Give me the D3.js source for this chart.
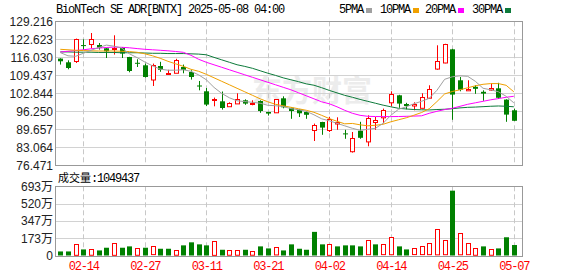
<!DOCTYPE html>
<html>
<head>
<meta charset="utf-8">
<script src="https://cdn.jsdelivr.net/npm/d3@7"></script>
<style>
  body { margin: 0; background: #fff; }
  svg { display: block; }
  .mono { font-family: "Liberation Mono", "DejaVu Sans Mono", monospace; font-size: 12px; letter-spacing: -1.2px; }
  .num { font-family: "Liberation Sans", Arial, sans-serif; font-size: 12px; fill: #222; }
</style>
</head>
<body>
<div id="chart"></div>
<script>
// data
const title = 'BioNTech SE ADR[BNTX] 2025-05-08 04:00';

const dates = ['02-11','02-12','02-13','02-14','02-18','02-19','02-20','02-21','02-24','02-25','02-26','02-27','02-28',
  '03-03','03-04','03-05','03-06','03-07','03-10','03-11','03-12','03-13','03-14','03-17','03-18','03-19','03-20','03-21',
  '03-24','03-25','03-26','03-27','03-28','03-31','04-01','04-02','04-03','04-04','04-07','04-08','04-09','04-10','04-11',
  '04-14','04-15','04-16','04-17','04-21','04-22','04-23','04-24','04-25','04-28','04-29','04-30','05-01','05-02',
  '05-05','05-06','05-07'];

const open = [115.55,114.2,114.82,120.5,121.05,120.54,119.33,119.22,119.44,116.14,
  114.02,113.1,107.79,112.84,109.91,110.43,112.48,110.65,105.7,103.58,
  100.54,99.91,98.26,99.29,100.28,99.22,100.02,96.0,95.77,101.01,
  97.53,96.87,96.0,89.29,92.33,89.29,91.67,88.16,81.78,89.11,
  85.37,92.22,93.94,99.44,102.11,98.92,98.26,97.53,101.38,111.89,
  114.02,118.96,107.61,103.83,105.22,103.39,104.2,104.67,100.54,96.62];
const close = [114.57,112.11,122.88,120.35,122.88,119.58,118.23,119.44,117.39,111.01,
  113.91,108.81,113.1,111.45,110.28,115.11,111.45,108.81,105.59,98.71,
  100.68,97.46,99.44,100.9,99.07,99.36,96.36,95.41,100.64,97.72,
  96.36,95.52,94.97,91.12,90.28,93.32,92.22,88.05,86.62,86.54,
  93.94,92.95,96.62,102.48,99.07,98.19,98.81,101.49,104.57,114.67,
  120.79,102.37,104.13,104.31,104.49,102.73,104.78,101.2,95.04,92.77];
const high = [115.66,114.93,122.88,122.62,124.93,121.27,119.51,124.09,119.8,116.2,
  115.3,113.72,113.72,114.38,111.45,115.48,113.36,111.27,107.35,104.78,
  101.27,103.5,99.55,102.84,100.64,100.28,100.28,96.07,100.75,101.74,
  97.72,96.98,96.25,91.75,92.4,94.24,94.05,89.47,88.67,92.4,
  94.78,94.16,97.24,103.58,102.29,99.36,99.55,102.84,105.78,120.43,
  120.98,119.15,108.82,107.61,105.78,103.94,106.51,106.69,100.64,97.24];
const low = [113.36,111.64,113.94,118.85,119.33,118.85,115.77,117.02,115.77,110.54,
  112.48,108.6,105.52,110.72,109.8,110.3,110.17,107.86,103.94,98.19,
  98.08,96.87,98.19,99.07,98.63,98.45,95.7,94.68,95.7,97.35,
  93.5,94.16,93.5,85.37,87.64,88.67,89.47,86.18,81.12,86.18,
  83.43,89.47,91.85,98.08,97.53,96.98,96.62,97.35,101.01,111.45,
  113.83,93.14,103.58,103.69,102.66,100.1,103.69,100.75,92.4,92.7];

// volume in 万 shares
const volume = [40.6,40.6,118.4,60.9,67.6,50.7,77.8,128.5,77.8,91.3,
  77.8,77.8,91.3,67.6,67.6,57.5,101.5,131.9,111.6,101.5,
  148.8,57.5,57.5,57.5,57.5,47.3,91.3,71,84.5,50.7,
  111.6,67.6,57.5,236.7,111.6,118.4,91.3,101.5,101.5,91.3,
  152.2,111.6,111.6,182.6,91.3,60.9,71,91.3,121.8,263.8,
  152.2,649.3,223.2,121.8,77.8,91.3,67.6,71,182.6,104.9437];

const ma5 = [117.75,116.58,116.4,117.5,118.6,119.6,120.5,120.1,119.4,117.3,
  115.9,114.3,112.9,111.7,111.3,111.3,111.45,110.9,109.6,107.8,
  105.0,102.8,101.2,100.1,99.8,99.55,99.2,98.45,98.3,97.97,
  97.24,96.8,96.25,94.97,93.5,92.77,91.86,90.94,90.02,89.29,
  89.66,90.02,91.86,94.79,96.98,97.9,99.0,99.91,101.0,103.94,
  107.97,108.89,109.25,109.07,107.24,104.68,104.13,103.39,101.75,99.36];
const ma10 = [118.96,118.78,118.6,118.49,118.41,118.34,118.34,118.34,118.23,118.12,
  117.86,117.31,116.58,115.66,114.57,113.65,112.73,111.63,110.9,109.8,
  108.52,107.24,105.96,104.67,103.39,102.11,100.83,99.73,98.81,98.27,
  97.72,97.17,96.62,95.89,94.78,93.58,92.59,91.67,91.8,91.3,
  90.94,91.12,91.49,92.4,93.14,93.87,94.8,95.8,97.2,99.8,
  102.6,103.5,104.13,104.86,105.59,106.14,106.4,106.4,105.78,103.39];
const ma20 = [117.97,118.23,118.52,118.78,119.14,119.4,119.62,119.77,119.69,119.51,
  119.22,118.96,118.78,118.6,118.41,118.16,117.86,116.76,115.3,114.2,
  113.28,112.37,111.45,110.54,109.62,108.7,107.79,106.87,105.96,105.04,
  104.13,103.03,101.93,100.83,99.73,99.0,97.9,96.62,95.52,94.78,
  94.42,94.34,94.31,94.31,94.34,94.42,94.49,94.6,95.52,96.25,
  96.87,97.35,98.08,98.81,99.36,99.91,100.46,100.9,101.38,101.75];
const ma30 = [118.0,118.0,117.9,117.9,117.9,117.8,117.8,117.8,117.7,117.7,
  117.7,117.6,117.5,117.5,117.4,117.4,117.4,117.3,117.2,116.95,
  116.0,115.1,114.2,113.3,112.7,112.0,111.1,110.2,109.4,108.5,
  107.8,107.1,106.3,105.8,104.9,103.9,103.0,102.1,101.4,100.6,
  99.9,99.2,98.5,97.9,97.35,97.1,96.9,96.8,96.75,96.9,
  97.0,97.2,97.5,97.7,97.8,97.95,98.1,98.2,98.1,97.9];

const maNames = ['5PMA', '10PMA', '20PMA', '30PMA'];
const priceTicks = [76.471, 83.064, 89.657, 96.250, 102.844, 109.437, 116.030, 122.623, 129.216];
const volTicks = [0, 173, 347, 520, 693];
const dateTicks = ['02-14','02-27','03-11','03-21','04-02','04-14','04-25','05-07'];

const RED = '#ff0000';
const GREEN = '#008000';
const maColors = ['#a0a0a0', '#f0a000', '#ff00ff', '#0c7a3a'];

class KLineChart {

  constructor(container, width, height) {
    this.svg = d3.select(container).append('svg')
      .attr('width', width)
      .attr('height', height);
    this.left = 55.5;
    this.right = 522.5;
    this.price = [165.3, 21.3];   // bottom, top
    this.vol = [255.5, 186.3];

    this.x = d3.scalePoint(dates, [60.3, 513.8]);
    this.y = d3.scaleLinear(d3.extent(priceTicks), this.price);
    this.yv = d3.scaleLinear([0, 693], this.vol);
  }

  #cx(i) {
    return Math.round(this.x(dates[i])) + 0.5;
  }

  #watermark() {
    this.svg.append('text')
      .attr('x', 252).attr('y', 101)
      .style('font-family', '"Noto Sans CJK SC"')
      .style('font-size', '30px')
      .style('font-weight', 'bold')
      .style('fill', '#ececec')
      .text('东方财富');
  }

  #grid() {
    const g = this.svg.append('g');
    const hLine = (ticks, scale) => g.append('g').selectAll('line')
      .data(ticks).join('line')
      .attr('x1', this.left).attr('x2', this.right)
      .attr('y1', d => Math.round(scale(d)) + 0.5)
      .attr('y2', d => Math.round(scale(d)) + 0.5)
      .attr('stroke', '#d2d2d2');
    hLine(priceTicks.slice(1, -1), this.y);
    hLine(volTicks.slice(1, -1), this.yv);

    [this.price, this.vol].forEach(([b, t]) => {
      g.append('g').selectAll('line')
        .data(dateTicks).join('line')
        .attr('x1', d => Math.round(this.x(d)) + 0.5)
        .attr('x2', d => Math.round(this.x(d)) + 0.5)
        .attr('y1', t).attr('y2', b)
        .attr('stroke', '#c8c8c8')
        .attr('stroke-dasharray', '5,3');
    });
  }

  #frames() {
    [this.price, this.vol].forEach(([b, t]) => {
      this.svg.append('rect')
        .attr('x', this.left).attr('y', Math.round(t) + 0.5)
        .attr('width', this.right - this.left)
        .attr('height', Math.round(b) - Math.round(t))
        .attr('fill', 'none')
        .attr('stroke', '#999');
    });
  }

  #candles() {
    const g = this.svg.append('g');
    const idx = d3.range(dates.length);
    const up = i => close[i] > open[i];

    g.selectAll('line').data(idx).join('line')
      .attr('x1', i => this.#cx(i)).attr('x2', i => this.#cx(i))
      .attr('y1', i => this.y(high[i])).attr('y2', i => this.y(low[i]))
      .attr('stroke', i => up(i) ? RED : GREEN);

    g.selectAll('rect').data(idx).join('rect')
      .attr('x', i => up(i) ? this.#cx(i) - 2 : this.#cx(i) - 2.5)
      .attr('y', i => up(i) ? Math.round(this.y(close[i])) + 0.5 : this.y(open[i]))
      .attr('width', i => up(i) ? 4 : 5)
      .attr('height', i => Math.max(1, Math.abs(this.y(open[i]) - this.y(close[i]))))
      .attr('fill', i => up(i) ? '#fff' : GREEN)
      .attr('stroke', i => up(i) ? RED : 'none');
  }

  #volumes() {
    const g = this.svg.append('g');
    // bar colour follows the change from the previous close
    const up = i => close[i] >= (i ? close[i - 1] : open[i]);
    g.selectAll('rect').data(volume).join('rect')
      .attr('x', (d, i) => up(i) ? this.#cx(i) - 2 : this.#cx(i) - 2.5)
      .attr('y', (d, i) => up(i) ? Math.round(this.yv(d)) + 0.5 : this.yv(d))
      .attr('width', (d, i) => up(i) ? 4 : 5)
      .attr('height', (d, i) => this.yv(0) - this.yv(d) - (up(i) ? 1 : 0))
      .attr('fill', (d, i) => up(i) ? '#fff' : GREEN)
      .attr('stroke', (d, i) => up(i) ? RED : 'none');
  }

  #averages() {
    const line = d3.line()
      .x((d, i) => this.x(dates[i]))
      .y(d => this.y(d));
    const series = [ma30, ma20, ma10, ma5];
    const colors = maColors.slice().reverse();
    this.svg.append('g').selectAll('path')
      .data(series).join('path')
      .attr('d', line)
      .attr('fill', 'none')
      .attr('stroke', (d, i) => colors[i])
      .attr('stroke-width', 1);
  }

  #axes() {
    const ay = this.svg.append('g')
      .attr('transform', `translate(${this.left - 0.5},0)`)
      .call(d3.axisLeft(this.y).tickValues(priceTicks).tickSize(0).tickPadding(2)
        .tickFormat(d3.format('.3f')));
    const av = this.svg.append('g')
      .attr('transform', `translate(${this.left - 0.5},0)`)
      .call(d3.axisLeft(this.yv).tickValues(volTicks).tickSize(0).tickPadding(2)
        .tickFormat(d => d ? d + '万' : '0'));
    [ay, av].forEach(a => {
      a.select('.domain').remove();
      a.selectAll('text').attr('class', 'num')
        .style('font-family', '"Liberation Sans", "Noto Sans CJK SC", sans-serif');
    });

    const ax = this.svg.append('g')
      .attr('transform', `translate(0,${this.vol[0]})`)
      .call(d3.axisBottom(this.x).tickValues(dateTicks).tickSize(0).tickPadding(6));
    ax.select('.domain').remove();
    ax.selectAll('text').attr('class', 'mono').attr('fill', RED);
  }

  #header() {
    this.svg.append('text')
      .attr('class', 'mono')
      .attr('x', 56).attr('y', 13)
      .attr('fill', '#000')
      .text(title);

    const lx = [339, 380, 425, 472];
    const lg = this.svg.append('g').selectAll('g')
      .data(maNames).join('g')
      .attr('transform', (d, i) => `translate(${lx[i]},0)`);
    lg.append('text')
      .attr('class', 'mono')
      .attr('y', 13)
      .attr('fill', '#000')
      .text(d => d);
    lg.append('rect')
      .attr('x', d => d.length * 6 + 3).attr('y', 8)
      .attr('width', 6).attr('height', 5)
      .attr('fill', (d, i) => maColors[i]);

    const vt = this.svg.append('text')
      .attr('x', 58).attr('y', 182)
      .attr('fill', '#000');
    vt.append('tspan')
      .style('font-family', '"Noto Sans CJK SC"')
      .style('font-size', '11px')
      .text('成交量');
    vt.append('tspan')
      .attr('class', 'mono')
      .text(':' + Math.round(volume[volume.length - 1] * 10000));
  }

  render() {
    this.#watermark();
    this.#grid();
    this.#volumes();
    this.#candles();
    this.#averages();
    this.#frames();
    this.#axes();
    this.#header();
    return this;
  }
}

new KLineChart('#chart', 578, 276).render();
</script>
</body>
</html>
